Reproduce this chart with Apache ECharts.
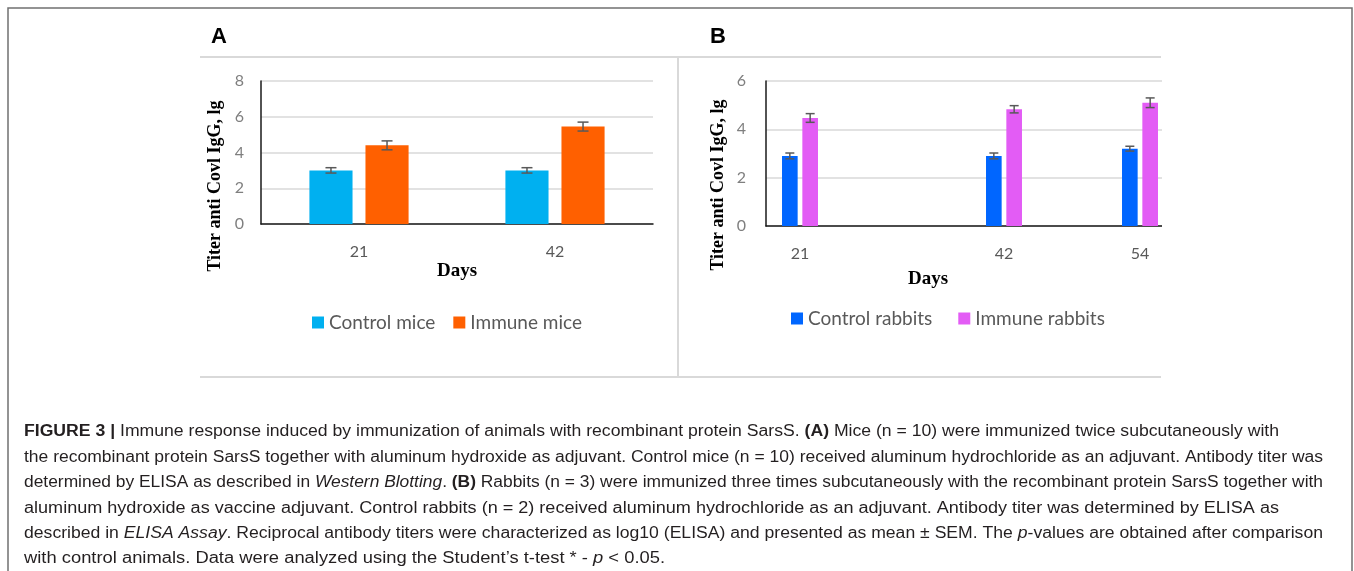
<!DOCTYPE html>
<html><head><meta charset="utf-8">
<script src="https://cdn.jsdelivr.net/npm/echarts@6/dist/echarts.min.js"></script>
<style>html,body{margin:0;padding:0;background:#fff}#c{width:1354px;height:571px}</style>
</head><body><div id="c"></div>
<script>
// ---- data (panel A: mice) ----
const daysA = ['21', '42'];
const controlMice = [3.0, 3.0];
const controlMiceErr = [0.15, 0.15];
const immuneMice = [4.4, 5.45];
const immuneMiceErr = [0.25, 0.25];
const ticksA = { min: 0, max: 8, interval: 2 };

// ---- data (panel B: rabbits) — blank categories reproduce the uneven spacing ----
const daysB = ['21', '', '', '42', '', '54'];
const controlRabbits = [2.9, null, null, 2.9, null, 3.2];
const controlRabbitsErr = [0.12, null, null, 0.12, null, 0.1];
const immuneRabbits = [4.47, null, null, 4.83, null, 5.1];
const immuneRabbitsErr = [0.18, null, null, 0.15, null, 0.2];
const ticksB = { min: 0, max: 6, interval: 2 };

const seriesNamesA = ['Control mice', 'Immune mice'];
const seriesNamesB = ['Control rabbits', 'Immune rabbits'];
const yAxisTitle = 'Titer anti Covl IgG, lg';
const xAxisTitle = 'Days';
const panelLabels = ['A', 'B'];

// ---- caption (segments: text, style) ----
const captionLines = [
  [['FIGURE 3 | ', 'b'], ['Immune response induced by immunization of animals with recombinant protein SarsS. ', 'n'], ['(A)', 'b'], [' Mice (n = 10) were immunized twice subcutaneously with', 'n']],
  [['the recombinant protein SarsS together with aluminum hydroxide as adjuvant. Control mice (n = 10) received aluminum hydrochloride as an adjuvant. Antibody titer was', 'n']],
  [['determined by ELISA as described in ', 'n'], ['Western Blotting', 'i'], ['. ', 'n'], ['(B)', 'b'], [' Rabbits (n = 3) were immunized three times subcutaneously with the recombinant protein SarsS together with', 'n']],
  [['aluminum hydroxide as vaccine adjuvant. Control rabbits (n = 2) received aluminum hydrochloride as an adjuvant. Antibody titer was determined by ELISA as', 'n']],
  [['described in ', 'n'], ['ELISA Assay', 'i'], ['. Reciprocal antibody titers were characterized as log10 (ELISA) and presented as mean \u00b1 SEM. The ', 'n'], ['p', 'i'], ['-values are obtained after comparison', 'n']],
  [['with control animals. Data were analyzed using the Student\u2019s t-test * - ', 'n'], ['p', 'i'], [' < 0.05.', 'n']]
];
const captionEnds = [1279, 1323, 1323, 1279, 1323, 665];

// ---------------------------------------------------------------
const COLORS = { cm: '#00b0f0', im: '#ff6000', cr: '#0066ff', ir: '#e35cf5' };
const CAP_FONT = 16;
const capFonts = {
  n: CAP_FONT + 'px "Liberation Sans"',
  b: 'bold ' + CAP_FONT + 'px "Liberation Sans"',
  i: 'italic ' + CAP_FONT + 'px "Liberation Sans"'
};
const mctx = document.createElement('canvas').getContext('2d');
function measureLine(segs) {
  let w = 0;
  segs.forEach(([t, s]) => { mctx.font = capFonts[s]; w += mctx.measureText(t).width; });
  return w;
}

function errSeries(xi, vals, errs, sign, barPct, gapPct, cap) {
  return {
    type: 'custom', xAxisIndex: xi, yAxisIndex: xi, z: 5, silent: true,
    encode: { x: 0, y: 1 },
    data: vals.map((v, i) => v == null ? null : [i, v, errs[i]]).filter(Boolean),
    renderItem(params, api) {
      const i = api.value(0), v = api.value(1), e = api.value(2);
      const band = api.size([1, 0])[0];
      const bw = band * barPct, gap = bw * gapPct;
      const off = sign * (bw + gap) / 2;
      const hi = api.coord([i, v + e]), lo = api.coord([i, v - e]);
      const x = hi[0] + off;
      const st = { stroke: '#595959', lineWidth: 1.5 };
      return { type: 'group', children: [
        { type: 'line', shape: { x1: x, y1: hi[1], x2: x, y2: lo[1] }, style: st },
        { type: 'line', shape: { x1: x - cap, y1: hi[1], x2: x + cap, y2: hi[1] }, style: st },
        { type: 'line', shape: { x1: x - cap, y1: lo[1], x2: x + cap, y2: lo[1] }, style: st }
      ]};
    }
  };
}

function xAx(gi, cats, nameGap, namePad) {
  return {
    type: 'category', gridIndex: gi, data: cats,
    axisLine: { lineStyle: { color: '#1a1a1a', width: 1.5 } },
    axisTick: { show: false },
    axisLabel: { interval: 0, color: '#595959', fontSize: 16, fontFamily: 'Lato', margin: 20 },
    name: xAxisTitle, nameLocation: 'middle', nameGap: nameGap,
    nameTextStyle: { fontFamily: '"Liberation Serif"', fontWeight: 'bold', fontSize: 19, color: '#000', padding: namePad }
  };
}
function yAx(gi, t, margin) {
  return {
    type: 'value', gridIndex: gi, min: t.min, max: t.max, interval: t.interval,
    axisLine: { show: true, lineStyle: { color: '#1a1a1a', width: 1.5 } },
    axisTick: { show: false },
    splitLine: { lineStyle: { color: '#d9d9d9', width: 1.5 } },
    axisLabel: { color: '#7f7f7f', fontSize: 16, fontFamily: 'Lato', margin: margin }
  };
}

const graphics = [];
// outer border
graphics.push({ type: 'rect', shape: { x: 8, y: 8, width: 1344, height: 620 }, style: { fill: null, stroke: '#707070', lineWidth: 1.5 }, z: 50 });
// panel frame lines
const frameStyle = { stroke: '#d9d9d9', lineWidth: 2 };
graphics.push({ type: 'line', shape: { x1: 200, y1: 57, x2: 1161, y2: 57 }, style: frameStyle, z: 50 });
graphics.push({ type: 'line', shape: { x1: 200, y1: 377, x2: 1161, y2: 377 }, style: frameStyle, z: 50 });
graphics.push({ type: 'line', shape: { x1: 678, y1: 57, x2: 678, y2: 377 }, style: frameStyle, z: 50 });
// clip of panel B at the right
graphics.push({ type: 'rect', shape: { x: 1162, y: 60, width: 40, height: 200 }, style: { fill: '#fff' }, z: 40 });
// panel letters
graphics.push({ type: 'text', x: 219, y: 37, style: { text: panelLabels[0], font: 'bold 22px "Liberation Sans"', fill: '#000', align: 'center', verticalAlign: 'middle' }, z: 50 });
graphics.push({ type: 'text', x: 718, y: 37, style: { text: panelLabels[1], font: 'bold 22px "Liberation Sans"', fill: '#000', align: 'center', verticalAlign: 'middle' }, z: 50 });
// y axis titles
[[215, 186], [718, 185]].forEach(([x, y]) => {
  graphics.push({ type: 'text', x: x, y: y, rotation: Math.PI / 2,
    style: { text: yAxisTitle, font: 'bold 18px "Liberation Serif"', fill: '#000', align: 'center', verticalAlign: 'middle' }, z: 50 });
});
// caption
const capStartX = 24, capY0 = 432, capDy = 25.4;
const rich = {
  n: { font: capFonts.n, fill: '#231f20' },
  b: { font: capFonts.b, fill: '#231f20' },
  i: { font: capFonts.i, fill: '#231f20' }
};
captionLines.forEach((segs, k) => {
  const natural = measureLine(segs);
  const sx = (captionEnds[k] - capStartX) / natural;
  const txt = segs.map(([t, s]) => '{' + s + '|' + t + '}').join('');
  graphics.push({ type: 'text', x: capStartX, y: capY0 + k * capDy, scaleX: sx,
    style: { text: txt, rich: rich, font: capFonts.n, fill: '#231f20', align: 'left', verticalAlign: 'middle' }, z: 50 });
});

const legendText = { color: '#595959', fontSize: 19, fontFamily: 'Lato' };
const option = {
  animation: false,
  backgroundColor: '#fff',
  grid: [
    { left: 261, top: 81, width: 392, height: 143 },
    { left: 766, top: 81, width: 408, height: 145 }
  ],
  xAxis: [xAx(0, daysA, 38, [0, 0, 0, 0]), xAx(1, daysB, 44, [0, 84, 0, 0])],
  yAxis: [yAx(0, ticksA, 17), yAx(1, ticksB, 20)],
  legend: [
    { data: seriesNamesA, left: 312, top: 313, padding: 0, icon: 'rect', itemWidth: 12, itemHeight: 12, itemGap: 18, textStyle: legendText },
    { data: seriesNamesB, left: 791, top: 309, padding: 0, icon: 'rect', itemWidth: 12, itemHeight: 12, itemGap: 26, textStyle: legendText }
  ],
  series: [
    { name: seriesNamesA[0], type: 'bar', xAxisIndex: 0, yAxisIndex: 0, data: controlMice, barWidth: '22%', barGap: '30%', itemStyle: { color: COLORS.cm } },
    { name: seriesNamesA[1], type: 'bar', xAxisIndex: 0, yAxisIndex: 0, data: immuneMice, barWidth: '22%', barGap: '30%', itemStyle: { color: COLORS.im } },
    { name: seriesNamesB[0], type: 'bar', xAxisIndex: 1, yAxisIndex: 1, data: controlRabbits, barWidth: '23%', barGap: '30%', itemStyle: { color: COLORS.cr } },
    { name: seriesNamesB[1], type: 'bar', xAxisIndex: 1, yAxisIndex: 1, data: immuneRabbits, barWidth: '23%', barGap: '30%', itemStyle: { color: COLORS.ir } },
    errSeries(0, controlMice, controlMiceErr, -1, 0.22, 0.3, 5.5),
    errSeries(0, immuneMice, immuneMiceErr, 1, 0.22, 0.3, 5.5),
    errSeries(1, controlRabbits, controlRabbitsErr, -1, 0.23, 0.3, 4.5),
    errSeries(1, immuneRabbits, immuneRabbitsErr, 1, 0.23, 0.3, 4.5)
  ],
  graphic: { elements: graphics }
};
const chart = echarts.init(document.getElementById('c'), null, { renderer: 'canvas' });
chart.setOption(option);
</script></body></html>
